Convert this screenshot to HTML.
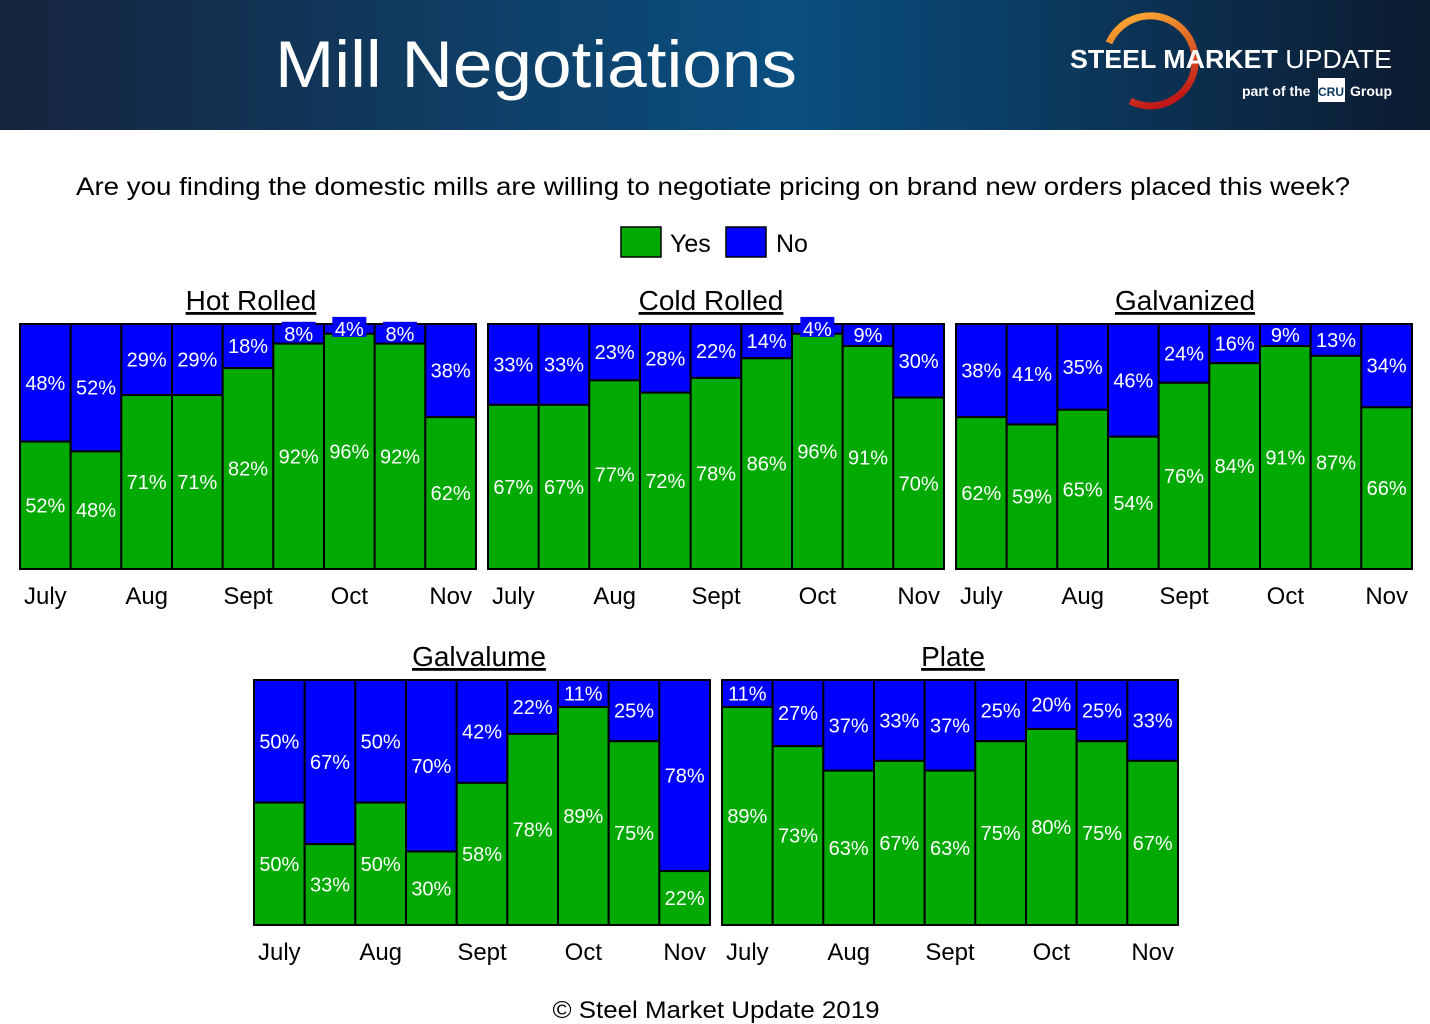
<!DOCTYPE html>
<html><head><meta charset="utf-8"><style>
body{margin:0;width:1430px;height:1024px;background:#fff;overflow:hidden;font-family:"Liberation Sans",sans-serif}
svg{display:block}
</style></head><body>
<svg id="svg" width="1430" height="1024" xmlns="http://www.w3.org/2000/svg">
<defs>
<linearGradient id="hdr" x1="0" x2="1" y1="0" y2="0"><stop offset="0" stop-color="#16243d"/><stop offset="0.55" stop-color="#0a4f80"/><stop offset="1" stop-color="#0c1b30"/></linearGradient>
<linearGradient id="arc" x1="0" x2="0" y1="0" y2="1"><stop offset="0" stop-color="#f8a030"/><stop offset="1" stop-color="#c01818"/></linearGradient>
</defs>
<rect x="0" y="0" width="1430" height="130" fill="url(#hdr)"/>
<text x="536" y="87" text-anchor="middle" font-size="66" fill="#fff" textLength="522" lengthAdjust="spacingAndGlyphs">Mill Negotiations</text>
<g>
<path d="M1118,30 A45,45 0 1 1 1118,92" fill="none" stroke="url(#arc)" stroke-width="7" transform="rotate(-20 1150 62)"/>
<text x="1070" y="68" font-size="26" fill="#fff" font-weight="bold" textLength="322" lengthAdjust="spacingAndGlyphs">STEEL MARKET <tspan font-weight="normal">UPDATE</tspan></text>
<text x="1242" y="96" font-size="14" fill="#fff" font-weight="bold">part of the</text>
<rect x="1318" y="78" width="27" height="24" fill="#fff"/>
<text x="1331" y="96" font-size="12" fill="#0a3a60" font-weight="bold" text-anchor="middle">CRU</text>
<text x="1350" y="96" font-size="14" fill="#fff" font-weight="bold">Group</text>
</g>
<text x="713" y="195" text-anchor="middle" font-size="25" fill="#000" textLength="1274" lengthAdjust="spacingAndGlyphs">Are you finding the domestic mills are willing to negotiate pricing on brand new orders placed this week?</text>
<g>
<rect x="621" y="227" width="40" height="30" fill="#00aa00" stroke="#000" stroke-width="1.5"/>
<text x="670" y="252" font-size="25">Yes</text>
<rect x="726" y="227" width="40" height="30" fill="#0000ff" stroke="#000" stroke-width="1.5"/>
<text x="776" y="252" font-size="25">No</text>
</g>
<text x="716" y="1018" text-anchor="middle" font-size="24" textLength="327" lengthAdjust="spacingAndGlyphs">© Steel Market Update 2019</text>
<g id="charts"></g>
</svg>
<script>
const months = ["July","Aug","Sept","Oct","Nov"];
const hotRolledYes = [52,48,71,71,82,92,96,92,62];
const hotRolledNo = [48,52,29,29,18,8,4,8,38];
const coldRolledYes = [67,67,77,72,78,86,96,91,70];
const coldRolledNo = [33,33,23,28,22,14,4,9,30];
const galvanizedYes = [62,59,65,54,76,84,91,87,66];
const galvanizedNo = [38,41,35,46,24,16,9,13,34];
const galvalumeYes = [50,33,50,30,58,78,89,75,22];
const galvalumeNo = [50,67,50,70,42,22,11,25,78];
const plateYes = [89,73,63,67,63,75,80,75,67];
const plateNo = [11,27,37,33,37,25,20,25,33];

const NS="http://www.w3.org/2000/svg";
const root=document.getElementById('charts');
function mk(tag,attrs,parent){const e=document.createElementNS(NS,tag);for(const k in attrs)e.setAttribute(k,attrs[k]);(parent||root).appendChild(e);return e;}

function chart(title,slug,x0,y0,tx0,yes,no){
  const W=456,H=245,n=yes.length,bw=W/n;
  const g=mk('g',{});
  
  
  const t=mk('text',{x:tx0,y:y0-14,'text-anchor':'middle','font-size':'28','text-decoration':'underline'},g);
  t.textContent=title;
  
  
  const yS=v=>H*v/100;
  const labels=[];
  for(let i=0;i<n;i++){
    const x=x0+i*bw;
    const gh=yS(yes[i]);
    const r1=mk('rect',{x:x,y:y0,width:bw,height:H-gh,fill:'#0000ff',stroke:'#000','stroke-width':2},g);
    
    
    const r2=mk('rect',{x:x,y:y0+H-gh,width:bw,height:gh,fill:'#00aa00',stroke:'#000','stroke-width':2},g);
    
    
    labels.push([x+bw/2,y0+H-gh/2+7,yes[i]+'%','yes']);
    const bh=H-gh;
    let cy=y0+bh/2+7;
    labels.push([x+bw/2,Math.max(cy,y0+9),no[i]+'%','no',bh<22]);
  }
  mk('rect',{x:x0,y:y0,width:W,height:H,fill:'none',stroke:'#000','stroke-width':2},g);
  labels.forEach(l=>{
    if(l[4]){const bg=mk('rect',{x:l[0]-17,y:l[1]-19,width:34,height:20,fill:'#0000ff'},g);
      
      }
    const tx=mk('text',{x:l[0],y:l[1],'text-anchor':'middle','font-size':'20',fill:'#fff'},g);
    tx.textContent=l[2];
    
    
  });
  months.forEach((m,k)=>{
    const tx=mk('text',{x:x0+(2*k+0.5)*bw,y:y0+H+35,'text-anchor':'middle','font-size':'24'},g);
    tx.textContent=m;
    
    
  });
}
chart('Hot Rolled','hot-rolled',20,324,251,hotRolledYes,hotRolledNo);
chart('Cold Rolled','cold-rolled',488,324,711,coldRolledYes,coldRolledNo);
chart('Galvanized','galvanized',956,324,1185,galvanizedYes,galvanizedNo);
chart('Galvalume','galvalume',254,680,479,galvalumeYes,galvalumeNo);
chart('Plate','plate',722,680,953,plateYes,plateNo);
</script>
</body></html>
